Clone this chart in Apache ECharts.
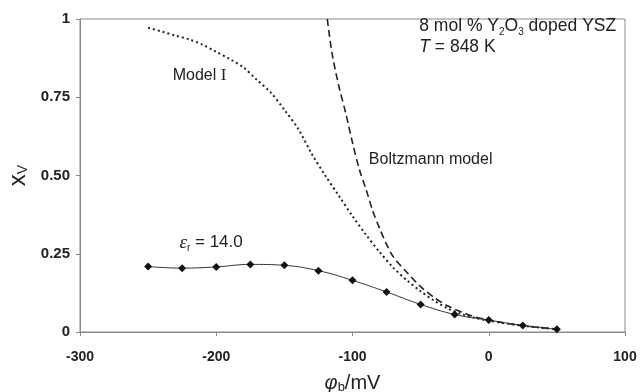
<!DOCTYPE html>
<html>
<head>
<meta charset="utf-8">
<script src="https://cdn.jsdelivr.net/npm/echarts@6/dist/echarts.min.js"></script>
<style>html,body{margin:0;padding:0;background:#fff;}#c{width:641px;height:392px;}</style>
</head>
<body>
<div id="c"></div>
<script>
// Axis ticks
const xTicks = [-300, -200, -100, 0, 100];
const yTickLabels = ['0', '0.25', '0.50', '0.75', '1'];

// epsilon_r = 14.0 (markers)
const epsX = [-250, -225, -200, -175, -150, -125, -100, -75, -50, -25, 0, 25, 50];
const epsY = [0.209, 0.204, 0.208, 0.216, 0.213, 0.196, 0.165, 0.128, 0.088, 0.056, 0.038, 0.021, 0.009];

// Model I (dotted)
const m1X = [-250, -240, -230, -220, -210, -200, -190, -180, -170, -160, -150, -140, -130, -120, -110, -100, -90, -80, -70, -60, -50, -40, -30, -20, -10, 0, 25, 50];
const m1Y = [0.972, 0.96, 0.947, 0.935, 0.918, 0.895, 0.872, 0.845, 0.805, 0.765, 0.71, 0.65, 0.57, 0.50, 0.435, 0.37, 0.31, 0.255, 0.205, 0.165, 0.13, 0.10, 0.075, 0.057, 0.045, 0.036, 0.02, 0.009];

// Boltzmann model (dashed)
const bzX = [-118.5, -115, -110, -105, -100, -95, -90, -85, -80, -75, -70, -60, -50, -40, -30, -20, -10, 0, 10, 25, 50];
const bzY = [1.0, 0.89, 0.785, 0.70, 0.605, 0.52, 0.455, 0.385, 0.33, 0.28, 0.24, 0.19, 0.145, 0.11, 0.083, 0.064, 0.048, 0.038, 0.03, 0.02, 0.009];

const zip = (xs, ys) => xs.map((x, i) => [x, ys[i]]);
const FONT = '"Liberation Sans", Arial, sans-serif';
const chart = echarts.init(document.getElementById('c'));

chart.setOption({
  animation: false,
  backgroundColor: '#fff',
  grid: { left: 80, right: 16, top: 19, bottom: 60, containLabel: false, outerBoundsMode: 'none', show: true, borderColor: '#8a8a8a', borderWidth: 1 },
  xAxis: {
    type: 'value', min: xTicks[0], max: xTicks[xTicks.length - 1], interval: 100,
    axisLine: { onZero: false, lineStyle: { color: '#8a8a8a', width: 1 } },
    axisTick: { show: true, length: 4, lineStyle: { color: '#8a8a8a' } },
    axisLabel: { color: '#222', fontFamily: FONT, fontSize: 14, fontWeight: 'bold', margin: 18 },
    splitLine: { show: false },
    name: '{phi|φ}{sub|b}{n|/mV}', nameLocation: 'middle', nameGap: 40,
    nameTextStyle: {
      rich: {
        phi: { fontFamily: FONT, fontStyle: 'italic', fontSize: 20, color: '#222', lineHeight: 22 },
        sub: { fontFamily: FONT, fontSize: 13, color: '#222', verticalAlign: 'bottom', lineHeight: 12 },
        n: { fontFamily: FONT, fontSize: 20, color: '#222', lineHeight: 22 }
      }
    }
  },
  yAxis: {
    type: 'value', min: 0, max: 1, interval: 0.25,
    axisLine: { show: true, onZero: false, lineStyle: { color: '#8a8a8a', width: 1 } },
    axisTick: { show: true, length: 4, lineStyle: { color: '#8a8a8a' } },
    axisLabel: {
      color: '#222', fontFamily: FONT, fontSize: 15, fontWeight: 'bold', margin: 10,
      formatter: (v) => yTickLabels[Math.round(v / 0.25)]
    },
    splitLine: { show: false },
    name: '{x|x}{sub|V}', nameLocation: 'middle', nameGap: 42, nameRotate: 90,
    nameTextStyle: {
      rich: {
        x: { fontFamily: FONT, fontSize: 24, color: '#222', lineHeight: 24 },
        sub: { fontFamily: FONT, fontSize: 14, color: '#222', verticalAlign: 'bottom', lineHeight: 12 }
      }
    }
  },
  series: [
    {
      name: 'Model I', type: 'line', data: zip(m1X, m1Y), smooth: 0.3, showSymbol: false,
      lineStyle: { color: '#222', width: 2, type: [2, 3] }, z: 2
    },
    {
      name: 'Boltzmann model', type: 'line', data: zip(bzX, bzY), smooth: 0.3, showSymbol: false,
      lineStyle: { color: '#222', width: 1.6, type: [7, 4] }, z: 2
    },
    {
      name: 'eps', type: 'line', data: zip(epsX, epsY), smooth: 0.4,
      symbol: 'diamond', symbolSize: 8, itemStyle: { color: '#111' },
      lineStyle: { color: '#333', width: 1 }, z: 3
    }
  ]
});

function px(x, y) { return chart.convertToPixel({ gridIndex: 0 }, [x, y]); }
const mk = (size, extra) => Object.assign({ fontFamily: FONT, fontSize: size, fill: '#222', lineHeight: 21 }, extra || {});
const sub = { fontFamily: FONT, fontSize: 10, fill: '#222', verticalAlign: 'bottom', lineHeight: 12 };

const pM = px(-232, 0.82);
const pB = px(-88, 0.55);
const pE = px(-227, 0.285);
const pT = px(-51, 0.943);
chart.setOption({
  graphic: [
    { type: 'text', x: pM[0], y: pM[1], style: { text: '{a|Model }{b|I}', rich: { a: mk(16), b: { fontFamily: '"Liberation Serif", serif', fontSize: 17, fill: '#222', lineHeight: 21 } }, verticalAlign: 'middle' } },
    { type: 'text', x: pB[0], y: pB[1], style: { text: '{a|Boltzmann model}', rich: { a: mk(16) }, verticalAlign: 'middle' } },
    { type: 'text', x: pE[0], y: pE[1], style: { text: '{e|ε}{s|r}{a| = 14.0}', rich: { e: { fontFamily: '"Liberation Serif", serif', fontStyle: 'italic', fontSize: 19, fill: '#222', lineHeight: 21 }, s: sub, a: mk(17) }, verticalAlign: 'middle' } },
    { type: 'text', x: pT[0], y: pT[1], style: { text: '{a|8 mol % Y}{s|2}{a|O}{s|3}{a| doped YSZ}\n{t|T}{a| = 848 K}', rich: { a: mk(17.5), s: sub, t: mk(17.5, { fontStyle: 'italic' }) }, verticalAlign: 'middle' } }
  ]
});
</script>
</body>
</html>
